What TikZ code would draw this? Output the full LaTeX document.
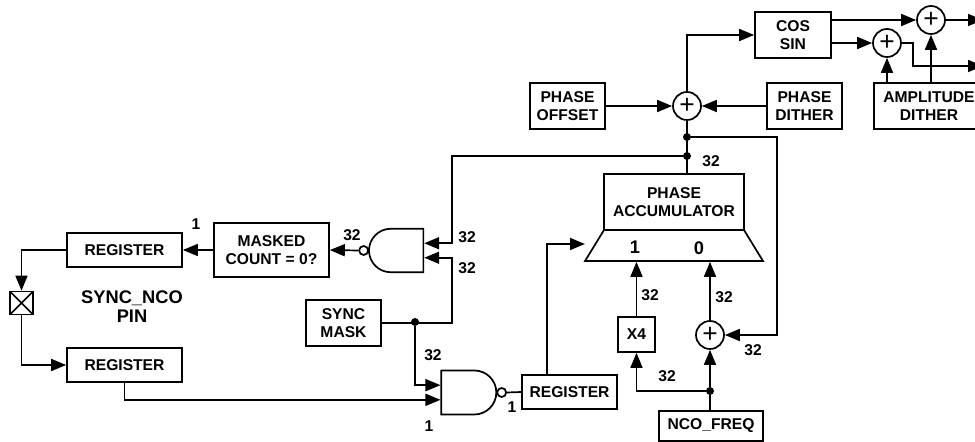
\documentclass[tikz,border=0pt]{standalone}
\usepackage{fontspec}
\setmainfont{Liberation Sans}
\usetikzlibrary{arrows.meta, shapes.geometric, shapes.gates.logic.US}
\definecolor{InkBlack}{HTML}{000000}
\tikzset{
  dspbox/.style={rectangle, draw=InkBlack, line width=0.034cm, fill=white,
                minimum width=1.5cm, minimum height=0.92cm, inner sep=0pt,
                align=center, font=\bfseries\fontsize{8.9}{10.5}\selectfont},
  regbox/.style={dspbox, minimum width=2.3cm, minimum height=0.68cm},
  dspsum/.style={circle, draw=InkBlack, line width=0.034cm, fill=white,
                minimum size=0.56cm, inner sep=0pt,
                font=\fontsize{15}{15}\selectfont},
  dspdot/.style={circle, fill=InkBlack, minimum size=0.16cm, inner sep=0pt},
  dspgate/.style={nand gate US, draw=InkBlack, line width=0.034cm, logic gate inputs=nn,
                logic gate inverted radius=0.09cm, inner sep=0pt,
                minimum width=1.1cm, minimum height=0.87cm},
  dsplabel/.style={inner sep=0pt, font=\bfseries\fontsize{8.9}{10.5}\selectfont},
  muxlabel/.style={inner sep=0pt, font=\bfseries\fontsize{10.4}{11.2}\selectfont},
  dspline/.style={line width=0.034cm, InkBlack},
  dsparrow/.style={-{Triangle[length=0.3cm,width=0.24cm]}, line width=0.034cm, InkBlack, #1},
}

\begin{document}
\begin{tikzpicture}[x=0.02cm, y=-0.02cm]
    % Coordinates are reference pixels, y running downwards
    \useasboundingbox (0,0) rectangle (975,442);

    % top right: phase sum, cos/sin, dither
    \node[dspbox, minimum width=1.52cm] (CosSin) at (793,35) {COS\\SIN};
    \node[dspsum] (SumCos) at (931,20) {+};
    \node[dspsum] (SumSin) at (887,43) {+};
    \node[dspbox] (PhaseOffset) at (567.5,106) {PHASE\\OFFSET};
    \node[dspsum] (SumPhase) at (687,106) {+};
    \node[dspbox] (PhaseDither) at (804.5,106) {PHASE\\DITHER};
    \node[dspbox, minimum width=2.2cm] (AmpDither) at (929,106) {AMPLITUDE\\DITHER};
    \coordinate (OutCos) at (983,20);
    \coordinate (OutSin) at (983,66);
    \coordinate (SinTurn) at (913,66);

    % accumulator and its inputs
    \node[dspbox, minimum width=2.8cm, minimum height=1.12cm] (AccBox) at (674,202) {PHASE\\ACCUMULATOR};
    \node[trapezium, draw=InkBlack, line width=0.034cm, trapezium stretches body=true,
          trapezium left angle=58.5, trapezium right angle=58.5, inner sep=0pt,
          minimum width=3.56cm] (AccMux) at (674,245.5) {\rule{0pt}{0.62cm}\hspace{1pt}};
    \node[muxlabel] (MuxOne) at (635,247) {1};
    \node[muxlabel] (MuxZero) at (699,248) {0};
    \node[dspbox, minimum width=0.74cm, minimum height=0.7cm] (TimesFour) at (636.5,334.5) {X4};
    \node[dspsum] (SumFreq) at (710,335) {+};
    \node[dspbox, minimum width=2.08cm, minimum height=0.6cm] (NcoFreq) at (711,426) {NCO\_FREQ};
    \node[regbox, minimum width=1.9cm] (RegLoad) at (569.5,392) {REGISTER};
    \coordinate (MuxIn) at (585,244);
    \coordinate (FeedTurn) at (777,335);
    \coordinate (LoadTurn) at (547,375);

    \node[dspdot] (DotFeed) at (687,137) {};
    \node[dspdot] (DotBus) at (687,156) {};
    \node[dspdot] (DotFreq) at (710,391) {};
    \node[dspdot] (DotMask) at (415,322) {};

    % left part: sync path
    \node[regbox] (RegTop) at (124.5,250) {REGISTER};
    \node[regbox] (RegLow) at (124.5,365) {REGISTER};
    \node[dspbox, minimum width=2.3cm, minimum height=1.08cm] (MaskCount) at (271.5,250) {MASKED\\COUNT = 0?};
    \node[dspbox] (SyncMask) at (343.5,323) {SYNC\\MASK};
    \node[dspgate, rotate=180, minimum width=1.04cm] (GateCount) at (398,250.5) {};
    \node[dspgate] (GateLoad) at (467,392.5) {};
    \node[rectangle, draw=InkBlack, line width=0.034cm, minimum size=0.46cm, inner sep=0pt,
          path picture={\draw[dspline] (path picture bounding box.north west) -- (path picture bounding box.south east)
                        (path picture bounding box.north east) -- (path picture bounding box.south west);}] (SyncPad) at (21.5,303) {};
    \node[dsplabel, align=center, font=\bfseries\fontsize{10.4}{11.2}\selectfont] (SyncPin) at (132,306.5) {SYNC\_NCO\\PIN};
    \coordinate (BusTurn) at (452,250);

    % connectors, top right
    \draw[dsparrow={}] (SumPhase.north) |- (CosSin.west);
    \draw[dsparrow={}] (CosSin.east |- SumCos.west) -- (SumCos.west);
    \draw[dsparrow={}] (CosSin.east |- SumSin.west) -- (SumSin.west);
    \draw[dsparrow={}] (SumCos.east) -- (OutCos);
    \draw[dsparrow={}] (SumSin.east) -| (SinTurn) -- (OutSin);
    \draw[dsparrow={}] (SumSin |- AmpDither.north) -- (SumSin.south);
    \draw[dsparrow={}] (SumCos |- AmpDither.north) -- (SumCos.south);
    \draw[dsparrow={}] (PhaseOffset.east) -- (SumPhase.west);
    \draw[dsparrow={}] (PhaseDither.west) -- (SumPhase.east);
    \draw[dspline] (SumPhase.south) -- (SumPhase |- AccBox.north);

    % connectors, accumulator
    \draw[dsparrow={}] (DotFeed) -| (FeedTurn) -- (SumFreq.east);
    \draw[dsparrow={}] (DotFreq) -| (TimesFour.south);
    \draw[dsparrow={}] (TimesFour.north) -- (TimesFour |- AccMux.south);
    \draw[dsparrow={}] (SumFreq.north) -- (SumFreq |- AccMux.south);
    \draw[dsparrow={}] (DotFreq) -- (SumFreq.south);
    \draw[dspline] (NcoFreq.north -| DotFreq) -- (DotFreq);
    \draw[dsparrow={}] (LoadTurn) |- (MuxIn);

    % connectors, sync path
    \draw[dsparrow={}] (DotBus) -| (BusTurn |- GateCount.input 2) -- (GateCount.input 2);
    \draw[dsparrow={}] (SyncMask.east) -| (BusTurn |- GateCount.input 1) -- (GateCount.input 1);
    \draw[dsparrow={}] (GateCount.output) -- (MaskCount.east);
    \draw[dsparrow={}] (MaskCount.west) -- (RegTop.east);
    \draw[dsparrow={}] (RegTop.west) -| (SyncPad.north);
    \draw[dsparrow={}] (SyncPad.south) |- (RegLow.west);
    \draw[dsparrow={}] (DotMask) |- (GateLoad.input 1);
    \draw[dsparrow={}] (RegLow.south) |- (GateLoad.input 2);
    \draw[dspline] (GateLoad.output) -- (RegLoad.west);

    % bus widths
    \node[dsplabel] (WidthBus) at (711,161) {32};
    \node[dsplabel] (WidthGateA) at (467,237) {32};
    \node[dsplabel] (WidthGateB) at (467,268) {32};
    \node[dsplabel] (WidthMasked) at (352,235) {32};
    \node[dsplabel] (WidthReg) at (196,224) {1};
    \node[dsplabel] (WidthMask) at (433,355) {32};
    \node[dsplabel] (WidthLow) at (429,426) {1};
    \node[dsplabel] (WidthLoad) at (512,407) {1};
    \node[dsplabel] (WidthFour) at (650,295) {32};
    \node[dsplabel] (WidthZero) at (724,297) {32};
    \node[dsplabel] (WidthFeed) at (753,350) {32};
    \node[dsplabel] (WidthFreq) at (667,376) {32};
\end{tikzpicture}
\end{document}
